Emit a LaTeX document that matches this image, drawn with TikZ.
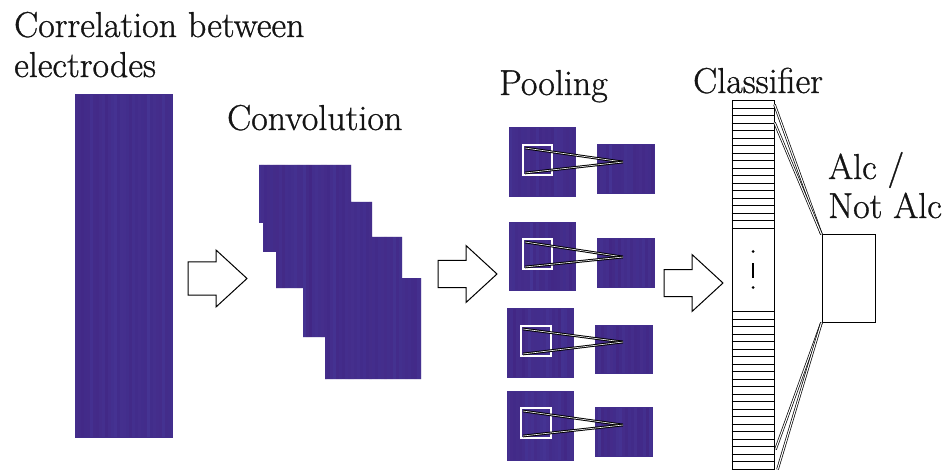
\documentclass[tikz,border=0pt]{standalone}
\usepackage{fontspec}
\newfontfamily\lblfont{Latin Modern Roman}[FakeBold=0.9]
\usetikzlibrary{calc}
\definecolor{imgc}{RGB}{66,45,140}
\definecolor{texblue}{RGB}{80,82,180}
\definecolor{texpurp}{RGB}{70,22,110}
\definecolor{txt}{RGB}{20,20,20}
\begin{document}
\begin{tikzpicture}[x=1pt,y=-1pt,
  lbl/.style={anchor=base west, inner sep=0pt, text=txt, font=\lblfont\fontsize{36}{40}\selectfont},
  tex/.style={path picture={
     \pgfmathsetseed{#1}
     \foreach \k in {0,3,...,130}{
       \pgfmathsetmacro\ra{0.25*rnd}
       \pgfmathsetmacro\rb{0.25*rnd}
       \fill[texblue, opacity=\ra] ([xshift=\k pt]path picture bounding box.north west) rectangle ([xshift={(\k+3)*1pt}]path picture bounding box.south west);
       \fill[texpurp, opacity=\rb] ([xshift=\k pt]path picture bounding box.north west) rectangle ([xshift={(\k+3)*1pt}]path picture bounding box.south west);
     }
  }},
  img/.style={fill=imgc, draw=imgc, line width=0.8pt, inner sep=0pt, outer sep=0pt, tex=#1},
  inbox/.style={draw=white, line width=1.4pt, inner sep=0pt, outer sep=0pt},
  poolline/.style={draw=black, line width=1pt, double=white, double distance=0.6pt},
  fcline/.style={draw=black, line width=0.7pt, double=white, double distance=1.1pt},
  boxline/.style={draw=black, line width=1pt},
  blockarr/.pic={\draw[line width=1pt, fill=white, line join=miter]
     (0,-#1) -- (28,-#1) -- (28,-28.5) -- (59,0) -- (28,28.5) -- (28,#1) -- (0,#1) -- cycle;}
]
\useasboundingbox (0,0) rectangle (947,470);
\clip (0,0) rectangle (947,470);

% titles
\node[lbl] (t1) at (14,37) {Correlation between};
\node[lbl] (t2) at (14,77) {electrodes};
\node[lbl] (t3) at (227,130) {Convolution};
\node[lbl] (t4) at (499,95) {Pooling};
\node[lbl] (t5) at (693,93) {Classifier};
\node[lbl] (t6) at (828,179) {Alc /};
\node[lbl] (t7) at (828,218) {Not Alc};

% correlation matrix
\node[img=11, minimum width=97pt, minimum height=343pt] (corr) at (123.5,265.5) {};

% convolution stack (overlapping feature maps, drawn as one region)
\begin{scope}
  \clip (259,165) -- (351,165) -- (351,202) -- (372,202) -- (372,237) -- (402,237)
     -- (402,278) -- (421,278) -- (421,379) -- (325,379) -- (325,337) -- (303,337)
     -- (303,288) -- (276,288) -- (276,252) -- (263,252) -- (263,223) -- (259,223) -- cycle;
  \fill[imgc] (255,160) rectangle (425,385);
  \pgfmathsetseed{21}
  \foreach \k in {258,261,...,422}{
    \pgfmathsetmacro\ra{0.25*rnd}
    \pgfmathsetmacro\rb{0.25*rnd}
    \fill[texblue, opacity=\ra] (\k,160) rectangle (\k+3,385);
    \fill[texpurp, opacity=\rb] (\k,160) rectangle (\k+3,385);
  }
\end{scope}

% block arrows
\pic at (188,278.5) {blockarr=16.5};
\pic at (438,274) {blockarr=13.5};
\pic at (664,283) {blockarr=13.5};

% pooling rows
\node[img=31, minimum width=66pt, minimum height=69pt] (p1b) at (542,161.5) {};
\node[img=32, minimum width=57pt, minimum height=49pt] (p1s) at (625.5,168.5) {};
\node[inbox, minimum width=29pt, minimum height=30pt] (p1i) at (537.5,160) {};
\coordinate (p1t) at (623,162);

\node[img=33, minimum width=66pt, minimum height=68pt] (p2b) at (542,256) {};
\node[img=34, minimum width=57pt, minimum height=49pt] (p2s) at (625.5,262.5) {};
\node[inbox, minimum width=29pt, minimum height=30pt] (p2i) at (537.5,254) {};
\coordinate (p2t) at (623,257);

\node[img=35, minimum width=66pt, minimum height=69pt] (p3b) at (540,342.5) {};
\node[img=36, minimum width=57pt, minimum height=48pt] (p3s) at (623.5,349) {};
\node[inbox, minimum width=30pt, minimum height=30pt] (p3i) at (536,341) {};
\coordinate (p3t) at (623,342);

\node[img=37, minimum width=66pt, minimum height=69pt] (p4b) at (540,425.5) {};
\node[img=38, minimum width=57pt, minimum height=49pt] (p4s) at (623.5,431.5) {};
\node[inbox, minimum width=30pt, minimum height=30pt] (p4i) at (536,423) {};
\coordinate (p4t) at (623,425);

\foreach \r in {1,2,3,4}{
  \draw[poolline] ([shift={(2,3)}]p\r i.north west) -- (p\r t);
  \draw[poolline] ([shift={(2,-2)}]p\r i.south west) -- (p\r t);
}

% classifier column
\node[boxline, fill=white, inner sep=0pt, minimum width=42pt, minimum height=379pt] (cls) at (753,290.5) {};
\foreach \k in {1,...,17}{
  \draw[boxline] ($(cls.north west)+(0,7.53*\k)$) -- ($(cls.north east)+(0,7.53*\k)$);
}
\foreach \k in {0,...,21}{
  \draw[boxline] ($(cls.north west)+(0,211+7.5*\k)$) -- ($(cls.north east)+(0,211+7.5*\k)$);
}
\fill ($(cls.north)+(0,151)$) circle (1.5pt);
\draw[line width=1.6pt] ($(cls.north)+(0,163)$) -- ($(cls.north)+(0,177)$);
\fill ($(cls.north)+(0,187)$) circle (1.5pt);

% output box
\node[boxline, inner sep=0pt, minimum width=53pt, minimum height=87pt] (out) at (848.5,278.5) {};

\coordinate (f1) at ($(cls.north east)+(0,4)$);
\coordinate (f2) at ($(cls.north east)+(0,22)$);
\coordinate (f3) at ($(cls.north east)+(1,349)$);
\coordinate (f4) at ($(cls.north east)+(3,369)$);
\draw[fcline] (f1) -- (out.north west);
\draw[fcline] (f2) -- (out.north west);
\draw[fcline] (out.south west) -- (f3);
\draw[fcline] (out.south west) -- (f4);
\end{tikzpicture}
\end{document}
